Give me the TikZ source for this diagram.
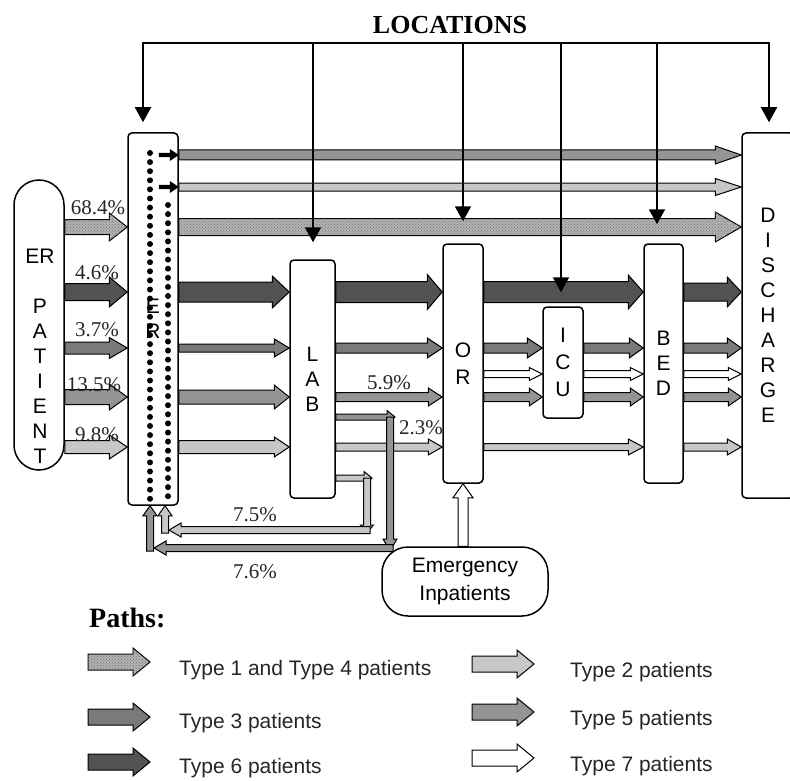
\documentclass[tikz,border=0pt]{standalone}
\usepackage{fontspec}
\setmainfont{Liberation Serif}
\setsansfont{Liberation Sans}
\usetikzlibrary{positioning,arrows.meta,calc,patterns}

% block arrow: [style]{from}{to}{half body}{half head}{head length}
\newcommand\barrow[6][]{%
  \path[#1] let \p1=#2, \p2=#3,
      \n1={atan2(\y2-\y1,\x2-\x1)}, \n2={veclen(\x2-\x1,\y2-\y1)} in
    [shift={(\p1)}, rotate=\n1]
    (0pt,#4pt) -- (\n2-#6pt,#4pt) -- (\n2-#6pt,#5pt) -- (\n2+0pt,0pt)
    -- (\n2-#6pt,-#5pt) -- (\n2-#6pt,-#4pt) -- (0pt,-#4pt) -- cycle;}

\begin{document}
\begin{tikzpicture}[x=1pt, y=-1pt, >={Triangle[width=16pt,length=15pt]},
  ward/.style={draw, line width=1.5, rounded corners=4, fill=white, inner sep=0,
    align=center, font=\sffamily\fontsize{21}{25}\selectfont},
  t14/.style={draw, line width=1, fill=black!30,
    postaction={pattern=crosshatch dots, pattern color=black!55}},
  t2/.style={draw, line width=1, fill=black!22},
  t3/.style={draw, line width=1, fill=black!52},
  t5/.style={draw, line width=1, fill=black!42},
  t6/.style={draw, line width=1, fill=black!68},
  t7/.style={draw, line width=1, fill=white},
  pct/.style={font=\fontsize{21}{24}\selectfont, text=black!85, inner sep=0},
  legtext/.style={anchor=base west, font=\sffamily\fontsize{21}{24}\selectfont, text=black!85, inner sep=0},
  locline/.style={line width=1.9}]
\useasboundingbox (0,0) rectangle (790,781);

\node[ward, rounded corners=25, minimum width=50, minimum height=290] (pat) at (39,325) {};
\node[ward, draw=none, fill=none] (patlbl) at (40,356) {ER\\[24.6pt]P\\A\\T\\I\\E\\N\\T};
\node[ward, minimum width=50, minimum height=372] (er)  at (153,319)   {E\\R};
\node[ward, minimum width=45, minimum height=238] (lab) at (312.5,379) {L\\A\\B};
\node[ward, minimum width=40, minimum height=239, font=\sffamily\fontsize{21}{27}\selectfont] (opr) at (463,363.5) {O\\R};
\node[ward, minimum width=40, minimum height=111, font=\sffamily\fontsize{21}{27}\selectfont] (icu) at (563,362.5) {I\\C\\U};
\node[ward, minimum width=39, minimum height=239] (bed) at (663.5,363.5) {B\\E\\D};
\node[ward, minimum width=52, minimum height=365] (dis) at (768,315.5) {D\\I\\S\\C\\H\\A\\R\\G\\E};
\node[ward, rounded corners=26, minimum width=166, minimum height=69,
  font=\sffamily\fontsize{21}{28}\selectfont] (emg) at (465,581.5) {Emergency\\Inpatients};

\coordinate (r1) at (0,155);
\coordinate (r2) at (0,187);
\coordinate (r3) at (0,227);
\coordinate (r4) at (0,292);
\coordinate (r5) at (0,348);
\coordinate (rw) at (0,374);
\coordinate (r6) at (0,397);
\coordinate (r7) at (0,447);
\coordinate (l1) at (0,417);
\coordinate (l2) at (0,478);
\coordinate (c1) at (390,548);
\coordinate (c2) at (367,530);
\coordinate (bar) at (0,43);

\foreach \k in {0,...,38} \fill (150,153+9.1*\k) circle[radius=3pt];
\foreach \k in {0,...,32} \fill (168,205+9.1*\k) circle[radius=3pt];
\barrow[fill=black]{($(er.east|-r1)+(-20,0)$)}{(er.east|-r1)}{2.2}{6}{9};
\barrow[fill=black]{($(er.east|-r2)+(-20,0)$)}{(er.east|-r2)}{2.2}{6}{9};

\barrow[t14]{(pat.east|-r3)}{(er.west|-r3)}{7.5}{14}{18};
\barrow[t6]{(pat.east|-r4)}{(er.west|-r4)}{8.5}{15}{18};
\barrow[t3]{(pat.east|-r5)}{(er.west|-r5)}{6}{10.5}{18};
\barrow[t5]{(pat.east|-r6)}{(er.west|-r6)}{7.5}{13}{18};
\barrow[t2]{(pat.east|-r7)}{(er.west|-r7)}{6.5}{12}{18};

\barrow[t5]{(er.east|-r1)}{(dis.west|-r1)}{5}{9}{26};
\barrow[t2]{(er.east|-r2)}{(dis.west|-r2)}{4}{8.5}{26};
\barrow[t14]{(er.east|-r3)}{(dis.west|-r3)}{8.5}{15}{26};

\barrow[t6]{(er.east|-r4)}{(lab.west|-r4)}{10}{16}{17};
\barrow[t3]{(er.east|-r5)}{(lab.west|-r5)}{4}{9}{15};
\barrow[t5]{(er.east|-r6)}{(lab.west|-r6)}{7}{12}{15};
\barrow[t2]{(er.east|-r7)}{(lab.west|-r7)}{6.5}{10}{15};

\barrow[t6]{(lab.east|-r4)}{(opr.west|-r4)}{10.5}{17.5}{15};
\barrow[t3]{(lab.east|-r5)}{(opr.west|-r5)}{5}{10}{15};
\barrow[t5]{(lab.east|-r6)}{(opr.west|-r6)}{4.5}{9}{14};
\barrow[t2]{(lab.east|-r7)}{(opr.west|-r7)}{4}{8}{14};

\barrow[t6]{(opr.east|-r4)}{(bed.west|-r4)}{10.5}{17}{15};
\barrow[t3]{(opr.east|-r5)}{(icu.west|-r5)}{5}{10}{15};
\barrow[t7]{(opr.east|-rw)}{(icu.west|-rw)}{3.5}{6.5}{13};
\barrow[t5]{(opr.east|-r6)}{(icu.west|-r6)}{4.5}{9}{13};
\barrow[t2]{(opr.east|-r7)}{(bed.west|-r7)}{3.5}{8}{15};

\barrow[t3]{(icu.east|-r5)}{(bed.west|-r5)}{5}{10}{14};
\barrow[t7]{(icu.east|-rw)}{(bed.west|-rw)}{3.5}{6.5}{13};
\barrow[t5]{(icu.east|-r6)}{(bed.west|-r6)}{4.5}{9}{13};

\barrow[t6]{(bed.east|-r4)}{(dis.west|-r4)}{9}{15}{14};
\barrow[t3]{(bed.east|-r5)}{(dis.west|-r5)}{5}{10}{14};
\barrow[t7]{(bed.east|-rw)}{(dis.west|-rw)}{3.5}{6.5}{13};
\barrow[t5]{(bed.east|-r6)}{(dis.west|-r6)}{4.5}{9}{13};
\barrow[t2]{(bed.east|-r7)}{(dis.west|-r7)}{4}{8}{14};

\barrow[t7]{(opr.south|-emg.north)}{(opr.south)}{5}{10}{14};

\barrow[t2]{(lab.east|-l2)}{($(c2|-l2)+(5,0)$)}{3}{6.5}{8};
\barrow[t2]{(c2|-l2)}{($(c2)+(0,3)$)}{3.5}{6.5}{8};
\barrow[t2]{($(er.south|-c2)+(12,3)$)}{($(er.south)+(12,0)$)}{3.5}{7}{10};
\barrow[t2]{($(c2)+(3,0)$)}{($(er.south|-c2)+(16,0)$)}{3.5}{7}{12};
\barrow[t5]{(lab.east|-l1)}{($(c1|-l1)+(5,0)$)}{3}{6.5}{8};
\barrow[t5]{(c1|-l1)}{($(c1)+(0,3)$)}{3.5}{7}{12};
\barrow[t5]{($(er.south|-c1)+(-3,3)$)}{($(er.south)+(-3,0)$)}{3.5}{7}{10};
\barrow[t5]{($(c1)+(3,0)$)}{($(er.south|-c1)+(1,0)$)}{3.5}{7}{12};

\node[pct] (p684) at (98,208) {68.4\%};
\node[pct] (p46)  at (97,273) {4.6\%};
\node[pct] (p37)  at (97,330) {3.7\%};
\node[pct] (p135) at (94,385) {13.5\%};
\node[pct] (p98)  at (97,435) {9.8\%};
\node[pct] (p59)  at (389,383) {5.9\%};
\node[pct] (p23)  at (421,428) {2.3\%};
\node[pct] (p75)  at (255,515) {7.5\%};
\node[pct] (p76)  at (255,572) {7.6\%};

\node[font=\bfseries\fontsize{26}{30}\selectfont, inner sep=0] (loc) at (450,25) {LOCATIONS};
\draw[locline, line cap=rect] ($(er.north|-bar)+(-10,0)$) -- ($(dis.north|-bar)+(1,0)$);
\foreach \n/\dx/\gap in {er/-10/10, lab/0.5/17, opr/0/22, icu/-2/14, bed/-6.5/19, dis/1/10}
  \draw[locline,->] ($(\n.north|-bar)+(\dx,0)$) -- ($(\n.north)+(\dx,-\gap)$);

\node[font=\bfseries\fontsize{28}{30}\selectfont, anchor=west, inner sep=0] (paths) at (89,618) {Paths:};
\coordinate (k1) at (88,662);
\coordinate (k3) at (88,717);
\coordinate (k6) at (88,762);
\coordinate (k2) at (472,664);
\coordinate (k5) at (472,712);
\coordinate (k7) at (472,758);
\barrow[t14]{(k1)}{($(k1)+(62,0)$)}{8}{14}{17};
\barrow[t3]{(k3)}{($(k3)+(62,0)$)}{8}{14}{17};
\barrow[t6]{(k6)}{($(k6)+(62,0)$)}{8}{14}{17};
\barrow[t2]{(k2)}{($(k2)+(62,0)$)}{8}{14}{17};
\barrow[t5]{(k5)}{($(k5)+(62,0)$)}{8}{14}{17};
\barrow[t7]{(k7)}{($(k7)+(62,0)$)}{8}{14}{17};
\node[legtext] (k1t) at (179,675) {Type 1 and Type 4 patients};
\node[legtext] (k3t) at (179,728) {Type 3 patients};
\node[legtext] (k6t) at (179,773) {Type 6 patients};
\node[legtext] (k2t) at (570,677) {Type 2 patients};
\node[legtext] (k5t) at (570,725) {Type 5 patients};
\node[legtext] (k7t) at (570,771) {Type 7 patients};
\end{tikzpicture}
\end{document}
